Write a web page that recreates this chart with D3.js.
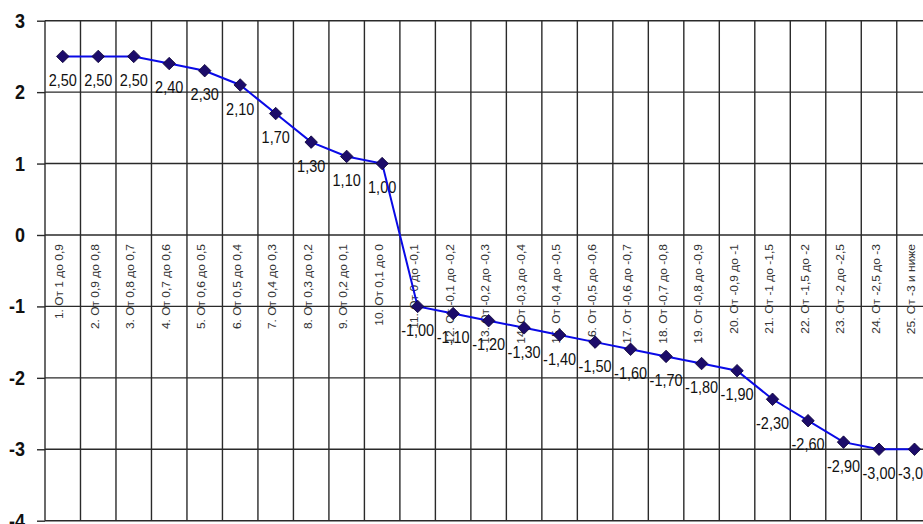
<!DOCTYPE html>
<html>
<head>
<meta charset="utf-8">
<script src="https://cdn.jsdelivr.net/npm/d3@7"></script>
<style>
  html, body { margin: 0; padding: 0; background: #fff; }
  svg { display: block; }
</style>
</head>
<body>
<svg id="chart" width="923" height="524"></svg>
<script>
// Categories (ranges of the index)
const categories = [
  "1. От 1 до 0,9", "2. От 0,9 до 0,8", "3. От 0,8 до 0,7", "4. От 0,7 до 0,6",
  "5. От 0,6 до 0,5", "6. От 0,5 до 0,4", "7. От 0,4 до 0,3", "8. От 0,3 до 0,2",
  "9. От 0,2 до 0,1", "10. От 0,1 до 0", "11. От 0 до -0,1", "12. От -0,1 до -0,2",
  "13. От -0,2 до -0,3", "14. От -0,3 до -0,4", "15. От -0,4 до -0,5", "16. От -0,5 до -0,6",
  "17. От -0,6 до -0,7", "18. От -0,7 до -0,8", "19. От -0,8 до -0,9", "20. От -0,9 до -1",
  "21. От -1 до -1,5", "22. От -1,5 до -2", "23. От -2 до -2,5", "24. От -2,5 до -3",
  "25. От -3 и ниже"
];

// Series values
const values = [
  2.5, 2.5, 2.5, 2.4, 2.3, 2.1, 1.7, 1.3, 1.1, 1.0,
  -1.0, -1.1, -1.2, -1.3, -1.4, -1.5, -1.6, -1.7, -1.8, -1.9,
  -2.3, -2.6, -2.9, -3.0, -3.0
];

// Value axis ticks
const yTicks = [3, 2, 1, 0, -1, -2, -3, -4];

const FONT = "'Liberation Sans', Arial, sans-serif";
const svg = d3.select("#chart");

const plotLeft = 45, bandW = 35.49, plotTop = 20.7, plotBottom = 520.7;
const x = d3.scaleBand()
  .domain(categories)
  .range([plotLeft, plotLeft + bandW * categories.length])
  .paddingInner(0).paddingOuter(0);
const y = d3.scaleLinear().domain([-4, 3]).range([plotBottom, plotTop]);

const fmt = v => d3.format(".2f")(v).replace(".", ",").replace("\u2212", "-");
const gridColor = "#2a2a2a";

// Horizontal gridlines with ticks on the left
const yAxis = d3.axisLeft(y)
  .tickValues(yTicks)
  .tickSize(8)
  .tickFormat("");
const gy = svg.append("g").attr("transform", `translate(${plotLeft},0)`).call(yAxis);
gy.select(".domain").remove();
gy.selectAll(".tick line").attr("stroke", gridColor).attr("stroke-width", 1.4);

svg.append("g").selectAll("line")
  .data(yTicks)
  .join("line")
  .attr("x1", plotLeft)
  .attr("x2", x.range()[1])
  .attr("y1", d => y(d))
  .attr("y2", d => y(d))
  .attr("stroke", gridColor)
  .attr("stroke-width", 1.4);

// Vertical gridlines at category boundaries
const bounds = categories.map(c => x(c)).concat([x.range()[1]]);
svg.append("g").selectAll("line")
  .data(bounds)
  .join("line")
  .attr("x1", d => d).attr("x2", d => d)
  .attr("y1", plotTop).attr("y2", plotBottom)
  .attr("stroke", gridColor)
  .attr("stroke-width", 1.4);

// Value tick labels
svg.append("g").selectAll("text")
  .data(yTicks)
  .join("text")
  .attr("transform", d => `translate(25,${y(d)}) scale(1,1.08)`)
  .attr("dy", "0.36em")
  .attr("text-anchor", "end")
  .attr("font-family", FONT)
  .attr("font-weight", "bold")
  .attr("font-size", 18)
  .attr("fill", "#111")
  .text(d => d);

// Category labels, rotated, hanging below the zero line
svg.append("g").selectAll("text")
  .data(categories)
  .join("text")
  .attr("transform", d => `translate(${x(d) + x.bandwidth() / 2 + 0.5},${y(0) + 9}) scale(1,1.2) rotate(-90)`)
  .attr("text-anchor", "end")
  .attr("font-family", FONT)
  .attr("font-size", 10)
  .attr("fill", "#333")
  .text(d => d);

// Data labels
svg.append("g").selectAll("text")
  .data(values)
  .join("text")
  .attr("transform", (d, i) => `translate(${x(categories[i]) + x.bandwidth() / 2},${y(d) + 24}) scale(1,1.12)`)
  .attr("dy", "0.35em")
  .attr("text-anchor", "middle")
  .attr("font-family", FONT)
  .attr("font-size", 14.5)
  .attr("fill", "#111")
  .text(d => fmt(d));

// Series line
const line = d3.line()
  .x((d, i) => x(categories[i]) + x.bandwidth() / 2)
  .y(d => y(d));
svg.append("path")
  .datum(values)
  .attr("d", line)
  .attr("fill", "none")
  .attr("stroke", "#0a0ae6")
  .attr("stroke-width", 2);

// Diamond markers
const diamond = d3.symbol().type(d3.symbolDiamond2).size(100);
svg.append("g").selectAll("path")
  .data(values)
  .join("path")
  .attr("d", diamond)
  .attr("transform", (d, i) => `translate(${x(categories[i]) + x.bandwidth() / 2},${y(d)})`)
  .attr("fill", "#1c0c6a")
  .attr("stroke", "#0a0033")
  .attr("stroke-width", 0.8);
</script>
</body>
</html>
